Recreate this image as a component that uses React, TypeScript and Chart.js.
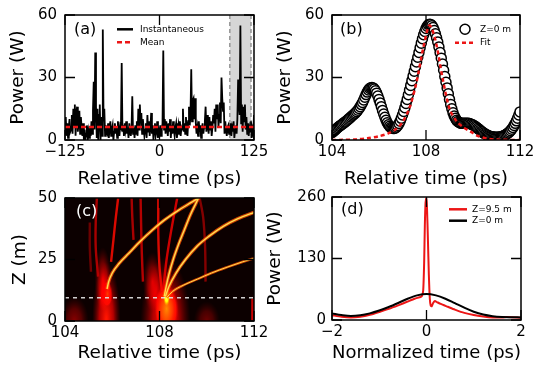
import { useEffect, useRef } from 'react';
import { Chart, registerables } from 'chart.js';

Chart.register(...registerables);

const FONT = '"DejaVu Sans", "Liberation Sans", sans-serif';
const RED = 'rgb(236, 22, 22)';
const CW = 534;
const CH = 369;

// ---------------- (a) instantaneous power ----------------
const aStart = -125;
const aStep = 1;
const aPower = [
  3, 11, 2, 8, 1, 6, 10, 4,
  5, 12, 3, 15, 7, 17, 2, 13, 16, 4, 9, 14, 3, 11, 6,
  2, 8, 0, 5, 1, 3, 7, 0, 4, 1, 6, 2,
  9, 3, 14, 28, 5, 42, 16, 1, 15, 0, 12,
  17, 0, 11, 2, 53, 9, 15, 2, 7, 4,
  3, 8, 1, 6, 9, 2, 5, 7, 0, 4, 8, 3, 6, 1, 9, 5, 2, 7,
  6, 37, 4,
  7, 2, 8, 5, 9, 3, 6, 1, 8, 4, 2,
  5, 21, 3,
  6, 1, 7, 3, 9, 2, 15, 5, 17, 8, 13, 3, 10, 6, 2,
  5, 8, 1, 12, 4, 9, 2, 6, 13, 3, 7, 0, 5, 8, 2, 4, 9, 1, 6, 3, 7, 2, 5,
  8, 43, 5,
  10, 3, 9, 6, 2, 8, 4, 10, 1, 7, 3, 9, 5, 2, 6, 8, 1, 4, 7, 3, 9, 2, 6, 5,
  15, 4, 8, 3, 11, 6, 2, 9, 16, 7, 12, 34, 9, 19, 20, 10,
  20, 8, 3, 6, 2, 9, 4, 7, 1, 5, 8, 3, 6, 9,
  16, 4, 12, 7, 3, 11, 5, 9, 2, 6, 12, 8, 15, 4, 17,
  10, 17, 6, 12, 18, 8, 30, 20, 14, 18, 3, 9, 5, 2, 6,
  7, 3, 5, 8, 2, 6, 4, 9, 1, 5, 7, 3, 10, 29,
  17, 12, 55, 8, 17, 4, 16, 9,
  17, 5, 11, 3, 8, 2, 6, 4, 9, 1, 5, 3, 12,
];
const aMean = 6.2;
const aWindow = [93, 121];
const aXTicks = [-125, 0, 125];
const aYTicks = [0, 30, 60];

// ---------------- (b) Z = 0 m profile and fit ----------------
const bStart = 104;
const bStep = 0.05;
const bPower = [
  3.5, 4.0, 4.5, 5.0, 5.5, 6.0, 6.5, 6.9, 7.3, 7.7, 8.2, 8.6, 9.0, 9.5, 10.0, 10.5, 11.0, 11.5, 12.0, 12.5,
  13.0, 13.6, 14.3, 15.1, 16.0, 17.0, 18.0, 19.2, 20.5, 21.8, 23.0, 24.0, 24.7, 25.1, 25.2, 25.0, 24.5, 23.6, 22.5, 21.1,
  19.5, 17.8, 16.0, 14.2, 12.5, 10.9, 9.5, 8.3, 7.3, 6.6, 6.0, 5.7, 5.5, 5.5, 5.8, 6.3, 7.0, 7.9, 9.0, 10.4,
  12.0, 13.7, 15.5, 17.5, 19.5, 21.7, 24.0, 26.2, 28.5, 30.7, 33.0, 35.2, 37.5, 39.7, 42.0, 44.3, 46.5, 48.6, 50.5, 52.1,
  53.5, 54.6, 55.3, 55.6, 55.5, 54.9, 54.0, 52.6, 51.0, 49.1, 47.0, 44.6, 42.0, 39.3, 36.5, 33.5, 30.5, 27.7, 25.0, 22.2,
  19.5, 17.1, 15.0, 13.1, 11.5, 10.4, 9.5, 8.9, 8.5, 8.2, 8.0, 8.0, 8.0, 8.0, 8.0, 8.0, 8.0, 7.9, 7.7, 7.5,
  7.2, 6.9, 6.5, 6.1, 5.6, 5.2, 4.7, 4.2, 3.8, 3.4, 3.0, 2.7, 2.4, 2.1, 1.9, 1.7, 1.6, 1.5, 1.4, 1.3,
  1.3, 1.3, 1.4, 1.5, 1.6, 1.8, 2.0, 2.3, 2.6, 3.0, 3.4, 3.9, 4.5, 5.2, 6.0, 7.0, 8.0, 9.2, 10.5, 12.0,
  13.5,
];
const bFitTime = [104, 104.5, 105, 105.5, 106, 106.4, 106.7, 107, 107.3, 107.6, 107.9, 108.15, 108.4, 108.7, 109, 109.3, 109.6, 109.9, 110.2, 110.6, 111, 112];
const bFitPower = [0, 0.1, 0.3, 0.8, 1.8, 3.2, 5, 8.5, 15.5, 28, 45, 55, 48, 30, 15, 9, 6, 4, 2, 0.7, 0.2, 0];
const bXTicks = [104, 108, 112];
const bYTicks = [0, 30, 60];

// ---------------- (c) evolution map ----------------
const cXTicks = [104, 108, 112];
const cYTicks = [0, 25, 50];
const cDashZ = 9.5;
const cGlowTime = [105.75, 108.25, 108.3, 108.3, 104.4, 110.0, 111.98, 105.6, 107.7, 105.8];
const cGlowZ = [0, 0, 5, 9.5, 0, 0, 0, 17, 16, 11];
const cGlowHalfT = [0.6, 1.05, 0.5, 0.15, 0.6, 0.55, 0.12, 0.35, 0.4, 0.22];
const cGlowHalfZ = [24, 26, 10, 3.5, 10, 8, 12, 13, 12, 5];
const cGlowLevel = [0.4, 0.4, 0.55, 0.85, 0.18, 0.14, 0.3, 0.24, 0.24, 0.45];
const cStreakTimes = [
  [105.4, 105.3, 105.3, 105.35],
  [105.95, 106.05, 106.15, 106.25],
  [106.9, 106.85, 106.82],
  [107.3, 107.25, 107.22, 107.2],
  [108.1, 108.0, 107.95, 107.95],
  [108.15, 108.3, 108.5, 108.75],
  [109.95, 109.93, 109.85, 109.7],
  [111.93, 111.93],
  [105.1, 105.05, 105.05],
];
const cStreakZ = [
  [18, 30, 40, 50],
  [24, 33, 42, 50],
  [33, 42, 50],
  [16, 28, 40, 50],
  [12, 22, 35, 50],
  [12, 25, 37, 50],
  [16, 30, 42, 50],
  [0, 9],
  [20, 30, 40],
];
const cStreakLevel = [0.28, 0.38, 0.28, 0.3, 0.38, 0.34, 0.22, 0.3, 0.18];
const cTrackTimes = [
  [105.78, 105.85, 106.0, 106.3, 106.7, 107.2, 107.7, 108.2, 108.8, 109.4, 109.8],
  [108.2, 108.28, 108.4, 108.58, 108.8, 109.05, 109.3, 109.55, 109.7],
  [108.25, 108.4, 108.7, 109.1, 109.6, 110.1, 110.7, 111.3, 112.1],
  [108.3, 108.55, 109.0, 109.6, 110.2, 110.9, 111.5, 112.1],
];
const cTrackZ = [
  [13, 16, 19.5, 23.5, 27.5, 32.5, 37, 41, 45, 48.5, 51],
  [10, 14, 19, 25, 31, 37, 43, 48, 51],
  [10, 14, 19.5, 25, 30.5, 34.5, 38.5, 41.5, 44.5],
  [9.5, 12, 14.5, 17, 19.5, 22, 24, 25.8],
];

// ---------------- (d) normalized profiles ----------------
const dTimeRed = [-2, -1.8, -1.6, -1.4, -1.2, -1.0, -0.8, -0.6, -0.4, -0.25, -0.15, -0.1, -0.07, -0.05, -0.035, -0.02, -0.005, 0.01, 0.03, 0.05, 0.07, 0.09, 0.11, 0.14, 0.18, 0.22, 0.3, 0.45, 0.6, 0.8, 1.0, 1.2, 1.4, 1.6, 1.7, 1.8, 2.0];
const dPowerRed = [10, 7, 5.5, 7, 11, 17, 23.5, 31, 39, 45, 48, 50, 62, 120, 200, 248, 257, 238, 170, 95, 45, 30, 29, 36, 40, 38, 34, 28, 22, 15, 10.5, 7.5, 5.5, 5.5, 6.5, 6, 4.5];
const dTimeBlack = [-2, -1.8, -1.6, -1.4, -1.2, -1.0, -0.8, -0.6, -0.4, -0.2, 0, 0.2, 0.4, 0.6, 0.8, 1.0, 1.2, 1.4, 1.6, 1.8, 2];
const dPowerBlack = [14, 10.5, 8.5, 10, 14, 20, 27.5, 36, 45, 52, 55, 52, 45, 35.5, 26, 17.5, 11.5, 8, 6.3, 5.8, 5.5];
const dXTicks = [-2, 0, 2];
const dYTicks = [0, 130, 260];

// ---------------- helpers ----------------
const pts = (xs: number[], ys: number[]) => xs.map((v, i) => ({ x: v, y: ys[i] }));
const seq = (start: number, step: number, n: number) =>
  Array.from({ length: n }, (_, i) => +(start + i * step).toFixed(4));
const fmt = (v: number) => (v < 0 ? '\u2212' + Math.abs(v) : String(v));

function hotColor(level: number, alpha: number) {
  const c = (v: number) => Math.round(Math.min(1, Math.max(0, v)) * 255);
  return `rgba(${c(level / 0.365)},${c((level - 0.365) / 0.375)},${c((level - 0.74) / 0.26)},${alpha})`;
}

function xAxis(min: number, max: number, ticks: number[], title: string, height: number, pad: number) {
  return {
    type: 'linear',
    position: 'bottom',
    min,
    max,
    afterBuildTicks: (s: any) => {
      s.ticks = ticks.map((v) => ({ value: v }));
    },
    afterFit: (s: any) => {
      s.height = height;
      s.paddingLeft = 0;
      s.paddingRight = 0;
    },
    grid: { display: false, drawTicks: false },
    border: { display: false },
    ticks: {
      autoSkip: false,
      maxRotation: 0,
      padding: pad,
      color: '#000',
      font: { family: FONT, size: 15, lineHeight: 1 },
      callback: (v: any) => fmt(Number(v)),
    },
    title: { display: true, text: title, color: '#000', font: { family: FONT, size: 18.5, lineHeight: 1 }, padding: 0 },
  };
}

function yAxis(min: number, max: number, ticks: number[], title: string, width: number, pad: number) {
  return {
    type: 'linear',
    position: 'left',
    min,
    max,
    afterBuildTicks: (s: any) => {
      s.ticks = ticks.map((v) => ({ value: v }));
    },
    afterFit: (s: any) => {
      s.width = width;
      s.paddingTop = 0;
      s.paddingBottom = 0;
    },
    grid: { display: false, drawTicks: false },
    border: { display: false },
    ticks: {
      autoSkip: false,
      padding: pad,
      color: '#000',
      font: { family: FONT, size: 15, lineHeight: 1 },
      callback: (v: any) => fmt(Number(v)),
    },
    title: { display: true, text: title, color: '#000', font: { family: FONT, size: 18.5, lineHeight: 1 }, padding: 0 },
  };
}

const framePlugin: any = {
  id: 'frame',
  beforeDatasetsDraw(chart: any, _a: any, o: any) {
    if (!o || !o.shade) return;
    const { ctx, chartArea: ca, scales } = chart;
    const x0 = scales.x.getPixelForValue(o.shade[0]);
    const x1 = scales.x.getPixelForValue(o.shade[1]);
    ctx.save();
    ctx.fillStyle = '#d6d6d6';
    ctx.fillRect(x0, ca.top, x1 - x0, ca.bottom - ca.top);
    ctx.strokeStyle = '#9a9a9a';
    ctx.lineWidth = 1.6;
    ctx.setLineDash([4, 3]);
    ctx.beginPath();
    ctx.moveTo(x0, ca.top);
    ctx.lineTo(x0, ca.bottom);
    ctx.moveTo(x1, ca.top);
    ctx.lineTo(x1, ca.bottom);
    ctx.stroke();
    ctx.restore();
  },
  afterDatasetsDraw(chart: any, _a: any, o: any) {
    const { ctx, chartArea: ca, scales } = chart;
    const x = scales.x;
    const y = scales.y;
    ctx.save();
    ctx.strokeStyle = '#000';
    ctx.lineWidth = 1.5;
    ctx.strokeRect(ca.left, ca.top, ca.right - ca.left, ca.bottom - ca.top);
    const L = 10;
    ctx.lineWidth = 1.3;
    ctx.beginPath();
    for (const v of o.xTicks) {
      const p = x.getPixelForValue(v);
      ctx.moveTo(p, ca.bottom);
      ctx.lineTo(p, ca.bottom - L);
      ctx.moveTo(p, ca.top);
      ctx.lineTo(p, ca.top + L);
    }
    for (const v of o.yTicks) {
      const p = y.getPixelForValue(v);
      ctx.moveTo(ca.left, p);
      ctx.lineTo(ca.left + L, p);
      ctx.moveTo(ca.right, p);
      ctx.lineTo(ca.right - L, p);
    }
    ctx.stroke();

    ctx.font = `16px ${FONT}`;
    ctx.textBaseline = 'middle';
    ctx.textAlign = 'left';
    ctx.fillStyle = o.labelColor || '#000';
    ctx.fillText(o.label, ca.left + o.labelDx, ca.top + o.labelDy);

    const lg = o.legend;
    if (lg) {
      ctx.font = `9px ${FONT}`;
      lg.items.forEach((di: number, k: number) => {
        const ds = chart.data.datasets[di];
        const yy = ca.top + lg.rows[k];
        if (ds.showLine === false) {
          ctx.beginPath();
          ctx.arc(ca.left + (lg.x0 + lg.x1) / 2, yy, ds.pointRadius, 0, Math.PI * 2);
          ctx.fillStyle = ds.pointBackgroundColor;
          ctx.fill();
          ctx.lineWidth = ds.pointBorderWidth;
          ctx.strokeStyle = ds.pointBorderColor;
          ctx.stroke();
        } else {
          ctx.beginPath();
          ctx.setLineDash(ds.borderDash ? [...ds.borderDash] : []);
          ctx.lineWidth = lg.lineWidth;
          ctx.strokeStyle = ds.borderColor;
          ctx.moveTo(ca.left + lg.x0, yy);
          ctx.lineTo(ca.left + lg.x1, yy);
          ctx.stroke();
          ctx.setLineDash([]);
        }
        ctx.fillStyle = '#000';
        ctx.fillText(ds.label, ca.left + lg.textDx, yy);
      });
    }
    ctx.restore();
  },
};

const heatPlugin: any = {
  id: 'heat',
  beforeDatasetsDraw(chart: any) {
    const { ctx, chartArea: ca, scales } = chart;
    const x = scales.x;
    const y = scales.y;
    ctx.save();
    ctx.beginPath();
    ctx.rect(ca.left, ca.top, ca.right - ca.left, ca.bottom - ca.top);
    ctx.clip();
    ctx.fillStyle = 'rgb(12,0,0)';
    ctx.fillRect(ca.left, ca.top, ca.right - ca.left, ca.bottom - ca.top);
    ctx.globalCompositeOperation = 'lighter';
    cGlowTime.forEach((t, i) => {
      const cx = x.getPixelForValue(t);
      const cy = y.getPixelForValue(cGlowZ[i]);
      const rx = Math.abs(x.getPixelForValue(t + cGlowHalfT[i]) - cx);
      const ry = Math.abs(y.getPixelForValue(cGlowZ[i] + cGlowHalfZ[i]) - cy);
      const lv = cGlowLevel[i];
      ctx.save();
      ctx.translate(cx, cy);
      ctx.scale(rx, ry);
      const g = ctx.createRadialGradient(0, 0, 0, 0, 0, 1);
      g.addColorStop(0, hotColor(lv, 1));
      g.addColorStop(0.5, hotColor(lv * 0.85, 0.7));
      g.addColorStop(1, hotColor(lv * 0.5, 0));
      ctx.fillStyle = g;
      ctx.beginPath();
      ctx.arc(0, 0, 1, 0, Math.PI * 2);
      ctx.fill();
      ctx.restore();
    });
    ctx.restore();
  },
};

function layoutPadding(left: number, top: number, right: number, bottom: number, yW: number, xH: number) {
  return { left: left - yW, top, right: CW - right, bottom: CH - bottom - xH };
}

const baseOptions = {
  responsive: false,
  animation: false,
  events: [],
};

function configA(): any {
  return {
    type: 'line',
    data: {
      datasets: [
        {
          label: 'Instantaneous',
          data: pts(seq(aStart, aStep, aPower.length), aPower),
          borderColor: '#000',
          borderWidth: 1.8,
          pointRadius: 0,
          tension: 0,
          clip: 0,
          order: 1,
        },
        {
          label: 'Mean',
          data: pts([aXTicks[0], aXTicks[2]], [aMean, aMean]),
          borderColor: RED,
          borderWidth: 2.5,
          borderDash: [5, 3],
          pointRadius: 0,
          clip: 0,
          order: 0,
        },
      ],
    },
    options: {
      ...baseOptions,
      layout: { padding: layoutPadding(65, 15, 254, 140, 55.75, 48.25) },
      scales: {
        x: xAxis(-125, 125, aXTicks, 'Relative time (ps)', 48.25, 5),
        y: yAxis(0, 60, aYTicks, 'Power (W)', 55.75, 8),
      },
      plugins: {
        legend: { display: false },
        tooltip: { enabled: false },
        frame: {
          xTicks: aXTicks,
          yTicks: aYTicks,
          shade: aWindow,
          label: '(a)',
          labelDx: 9,
          labelDy: 15,
          legend: { items: [0, 1], rows: [14.3, 27.3], x0: 52, x1: 68, textDx: 75, lineWidth: 2.5 },
        },
      },
    },
    plugins: [framePlugin],
  };
}

function configB(): any {
  return {
    type: 'line',
    data: {
      datasets: [
        {
          label: 'Z=0 m',
          data: pts(seq(bStart, bStep, bPower.length), bPower),
          showLine: false,
          pointStyle: 'circle',
          pointRadius: 5,
          pointBorderWidth: 1.5,
          pointBorderColor: '#000',
          pointBackgroundColor: '#fff',
          clip: 0,
          order: 1,
        },
        {
          label: 'Fit',
          data: pts(bFitTime, bFitPower),
          borderColor: RED,
          borderWidth: 2.5,
          borderDash: [4, 3],
          pointRadius: 0,
          tension: 0.3,
          clip: 0,
          order: 0,
        },
      ],
    },
    options: {
      ...baseOptions,
      layout: { padding: layoutPadding(332, 15, 520, 140, 55.75, 48.25) },
      scales: {
        x: xAxis(104, 112, bXTicks, 'Relative time (ps)', 48.25, 5),
        y: yAxis(0, 60, bYTicks, 'Power (W)', 55.75, 8),
      },
      plugins: {
        legend: { display: false },
        tooltip: { enabled: false },
        frame: {
          xTicks: bXTicks,
          yTicks: bYTicks,
          label: '(b)',
          labelDx: 8,
          labelDy: 15,
          legend: { items: [0, 1], rows: [14.3, 27.7], x0: 123, x1: 143, textDx: 148, lineWidth: 2.5 },
        },
      },
    },
    plugins: [framePlugin],
  };
}

function configC(): any {
  const datasets: any[] = [];
  cStreakTimes.forEach((ts, i) => {
    datasets.push({
      label: 'streak' + i,
      data: pts(ts, cStreakZ[i]),
      borderColor: hotColor(cStreakLevel[i], 0.85),
      borderWidth: 2.4,
      pointRadius: 0,
      tension: 0.35,
      clip: 0,
      order: 3,
    });
  });
  cTrackTimes.forEach((ts, i) => {
    const thin = i === 3;
    datasets.push({
      label: 'glow' + i,
      data: pts(ts, cTrackZ[i]),
      borderColor: 'rgba(255,80,0,0.8)',
      borderWidth: thin ? 2.6 : 3.4,
      pointRadius: 0,
      cubicInterpolationMode: 'monotone',
      clip: 0,
      order: 2,
    });
    datasets.push({
      label: 'track' + i,
      data: pts(ts, cTrackZ[i]),
      borderColor: 'rgb(255,222,80)',
      borderWidth: thin ? 1.0 : 1.4,
      pointRadius: 0,
      cubicInterpolationMode: 'monotone',
      clip: 0,
      order: 1,
    });
  });
  datasets.push({
    label: 'Z=9.5 m',
    data: pts([cXTicks[0], cXTicks[2]], [cDashZ, cDashZ]),
    borderColor: 'rgba(230,230,230,0.9)',
    borderWidth: 1.5,
    borderDash: [4, 4],
    pointRadius: 0,
    clip: 0,
    order: 0,
  });
  return {
    type: 'line',
    data: { datasets },
    options: {
      ...baseOptions,
      layout: { padding: layoutPadding(65, 198, 254, 321, 54.25, 41.25) },
      scales: {
        x: xAxis(104, 112, cXTicks, 'Relative time (ps)', 41.25, 5),
        y: yAxis(0, 50, cYTicks, 'Z (m)', 54.25, 8),
      },
      plugins: {
        legend: { display: false },
        tooltip: { enabled: false },
        frame: { xTicks: cXTicks, yTicks: cYTicks, label: '(c)', labelColor: '#fff', labelDx: 11, labelDy: 13.5 },
      },
    },
    plugins: [heatPlugin, framePlugin],
  };
}

function configD(): any {
  return {
    type: 'line',
    data: {
      datasets: [
        {
          label: 'Z=9.5 m',
          data: pts(dTimeRed, dPowerRed),
          borderColor: RED,
          borderWidth: 2,
          pointRadius: 0,
          tension: 0.2,
          clip: 0,
          order: 1,
        },
        {
          label: 'Z=0 m',
          data: pts(dTimeBlack, dPowerBlack),
          borderColor: '#000',
          borderWidth: 2,
          pointRadius: 0,
          cubicInterpolationMode: 'monotone',
          clip: 0,
          order: 0,
        },
      ],
    },
    options: {
      ...baseOptions,
      layout: { padding: layoutPadding(332, 197, 521, 320, 65.75, 42.25) },
      scales: {
        x: xAxis(-2, 2, dXTicks, 'Normalized time (ps)', 42.25, 5),
        y: yAxis(0, 260, dYTicks, 'Power (W)', 65.75, 6),
      },
      plugins: {
        legend: { display: false },
        tooltip: { enabled: false },
        frame: {
          xTicks: dXTicks,
          yTicks: dYTicks,
          label: '(d)',
          labelDx: 9,
          labelDy: 13,
          legend: { items: [0, 1], rows: [12.3, 23.7], x0: 117, x1: 135, textDx: 140, lineWidth: 2.5 },
        },
      },
    },
    plugins: [framePlugin],
  };
}

export default function App() {
  const r0 = useRef<HTMLCanvasElement>(null);
  const r1 = useRef<HTMLCanvasElement>(null);
  const r2 = useRef<HTMLCanvasElement>(null);
  const r3 = useRef<HTMLCanvasElement>(null);

  useEffect(() => {
    document.body.style.margin = '0';
    const refs = [r0, r1, r2, r3];
    const cfgs = [configA(), configB(), configC(), configD()];
    const charts = cfgs.map((cfg, i) => new Chart(refs[i].current as HTMLCanvasElement, cfg));
    return () => charts.forEach((c) => c.destroy());
  }, []);

  const style: any = { position: 'absolute', left: 0, top: 0, width: CW, height: CH };
  return (
    <div style={{ position: 'fixed', left: 0, top: 0, width: CW, height: CH, background: '#fff' }}>
      <canvas ref={r0} width={CW} height={CH} style={style} />
      <canvas ref={r1} width={CW} height={CH} style={style} />
      <canvas ref={r2} width={CW} height={CH} style={style} />
      <canvas ref={r3} width={CW} height={CH} style={style} />
    </div>
  );
}
